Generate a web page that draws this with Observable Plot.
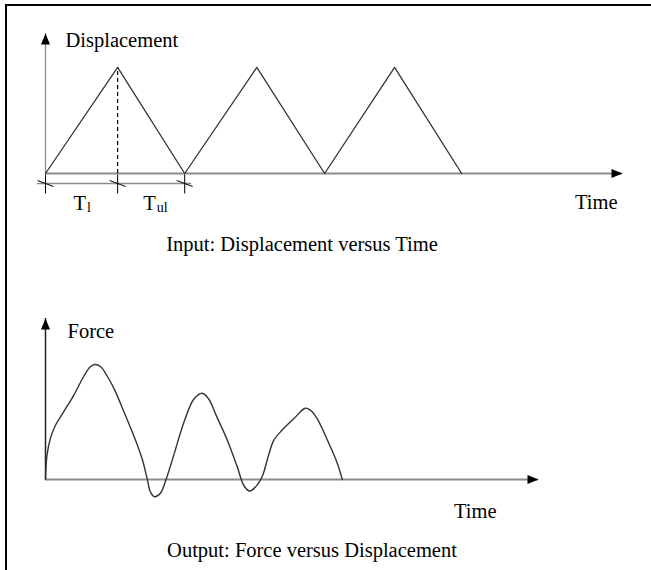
<!DOCTYPE html>
<html>
<head>
<meta charset="utf-8">
<script src="https://cdn.jsdelivr.net/npm/d3@7"></script>
<script src="https://cdn.jsdelivr.net/npm/@observablehq/plot@0.6"></script>
<style>
  html, body { margin: 0; padding: 0; background: #fff; overflow: hidden; }
  #wrap { position: relative; width: 651px; height: 570px; overflow: hidden; background: #fff; }
  #wrap svg { display: block; }
  #gap { height: 30px; }
  #frame { position: absolute; left: 5px; top: 4px; width: 700px; height: 700px;
           border-left: 2px solid #000; border-top: 2px solid #000; pointer-events: none; z-index: 2; }
</style>
</head>
<body>
<div id="wrap"><div id="frame"></div></div>
<script>
// ---------- data ----------
// Input: displacement versus time (triangular loading / unloading cycles)
const inputTime = [0, 1, 1.93, 2.93, 3.87, 4.84, 5.77];
const inputDisp = [0, 1, 0, 1, 0, 1, 0];
// dimension marks: loading time T_l and unloading time T_ul
const dimTicks = [0, 1, 1.93];
const dimMain = ["T", "T"];
const dimSub = ["l", "ul"];

// Output: force versus displacement
const outDisp = [0, 0.03, 0.10, 0.20, 0.37, 0.57, 0.78, 0.91, 1.00, 1.12, 1.25, 1.39, 1.59, 1.79, 1.96, 2.06, 2.13, 2.21,
                 2.33, 2.43, 2.60, 2.81, 3.01, 3.18, 3.31, 3.48, 3.69, 3.89, 4.02, 4.14, 4.29, 4.40, 4.53, 4.63, 4.80, 5.04,
                 5.27, 5.38, 5.51, 5.71, 5.92, 6.02];
const outForce = [0, 0.21, 0.36, 0.47, 0.59, 0.73, 0.90, 0.98, 1.00, 0.98, 0.90, 0.79, 0.59, 0.38, 0.18, 0.01, -0.11, -0.15,
                  -0.12, -0.02, 0.21, 0.50, 0.70, 0.75, 0.70, 0.54, 0.34, 0.11, -0.05, -0.10, -0.05, 0.03, 0.22, 0.34, 0.43, 0.53,
                  0.62, 0.60, 0.53, 0.35, 0.14, 0];

const topLabels = {y: "Displacement", x: "Time", caption: "Input: Displacement versus Time"};
const bottomLabels = {y: "Force", x: "Time", caption: "Output: Force versus Displacement"};

// ---------- helpers ----------
const FONT = "'Liberation Serif', 'Times New Roman', serif";
const FS = 20.5;
const headUp = {draw(ctx) { ctx.moveTo(0, 0); ctx.lineTo(4.5, 11); ctx.lineTo(-4.5, 11); ctx.closePath(); }};
const headRight = {draw(ctx) { ctx.moveTo(0, 0); ctx.lineTo(-11, 4.5); ctx.lineTo(-11, -4.5); ctx.closePath(); }};
const dimMark = {draw(ctx) { ctx.moveTo(0, -9); ctx.lineTo(0, 10); ctx.moveTo(-8, -3); ctx.lineTo(8, 3); }};
const style = {background: "transparent", fontFamily: FONT, fontSize: FS + "px", color: "#000", overflow: "visible"};

const inputData = inputTime.map((t, i) => ({t, d: inputDisp[i]}));
const peak = inputData[1];
const dimSpans = dimMain.map((m, i) => ({mid: (dimTicks[i] + dimTicks[i + 1]) / 2, main: m, sub: dimSub[i]}));
const outData = outDisp.map((x, i) => ({x, f: outForce[i]}));

const topChart = Plot.plot({
  width: 651, height: 260,
  marginLeft: 45, marginRight: 29, marginTop: 33, marginBottom: 87,
  x: {domain: [0, 8], axis: null},
  y: {domain: [0, 1.32], axis: null},
  style,
  marks: [
    Plot.ruleY([0], {stroke: "#8c8c8c", strokeWidth: 2}),
    Plot.ruleX([0], {stroke: "#8c8c8c", strokeWidth: 1.3}),
    Plot.dot([0], {frameAnchor: "top-left", symbol: headUp, fill: "#000", stroke: "none"}),
    Plot.dot([0], {frameAnchor: "bottom-right", symbol: headRight, fill: "#000", stroke: "none"}),
    Plot.line(inputData, {x: "t", y: "d", stroke: "#333", strokeWidth: 1.3}),
    Plot.ruleX([peak], {x: "t", y1: 0, y2: "d", stroke: "#000", strokeWidth: 1.2, strokeDasharray: "4,3"}),
    Plot.ruleY([0], {x1: dimTicks[0], x2: dimTicks[dimTicks.length - 1], dy: 10, insetLeft: -8, insetRight: -7,
                     stroke: "#8c8c8c", strokeWidth: 1.5}),
    Plot.dot(dimTicks, {x: d => d, y: 0, dy: 10, symbol: dimMark, fill: "none", stroke: "#000", strokeWidth: 1}),
    Plot.text(dimSpans, {x: "mid", y: 0, text: "main", dx: -8, dy: 36, textAnchor: "start", lineAnchor: "bottom", fontSize: FS}),
    Plot.text(dimSpans, {x: "mid", y: 0, text: "sub", dx: 5.5, dy: 38.5, textAnchor: "start", lineAnchor: "bottom", fontSize: 14}),
    Plot.text([topLabels.y], {frameAnchor: "top-left", text: d => d, dx: 20, dy: 13, textAnchor: "start", lineAnchor: "bottom", fontSize: FS}),
    Plot.text([topLabels.x], {frameAnchor: "bottom-right", text: d => d, dx: -5, dy: 35, textAnchor: "end", lineAnchor: "bottom", fontSize: FS}),
    Plot.text([topLabels.caption], {frameAnchor: "bottom", text: d => d, dx: -32, dy: 77, textAnchor: "middle", lineAnchor: "bottom", fontSize: FS})
  ]
});

const bottomChart = Plot.plot({
  width: 651, height: 280,
  marginLeft: 45, marginRight: 113, marginTop: 28, marginBottom: 91,
  x: {domain: [0, 10], axis: null},
  y: {domain: [0, 1.4], axis: null},
  style,
  marks: [
    Plot.ruleY([0], {stroke: "#8c8c8c", strokeWidth: 2}),
    Plot.ruleX([0], {stroke: "#222", strokeWidth: 1.5}),
    Plot.dot([0], {frameAnchor: "top-left", symbol: headUp, fill: "#000", stroke: "none"}),
    Plot.dot([0], {frameAnchor: "bottom-right", symbol: headRight, fill: "#000", stroke: "none"}),
    Plot.line(outData, {x: "x", y: "f", curve: "catmull-rom", stroke: "#333", strokeWidth: 1.4}),
    Plot.text([bottomLabels.y], {frameAnchor: "top-left", text: d => d, dx: 22, dy: 19, textAnchor: "start", lineAnchor: "bottom", fontSize: FS}),
    Plot.text([bottomLabels.x], {frameAnchor: "bottom-right", text: d => d, dx: -42, dy: 38, textAnchor: "end", lineAnchor: "bottom", fontSize: FS}),
    Plot.text([bottomLabels.caption], {frameAnchor: "bottom", text: d => d, dx: 20, dy: 77, textAnchor: "middle", lineAnchor: "bottom", fontSize: FS})
  ]
});

const wrap = document.getElementById("wrap");
const gap = document.createElement("div");
gap.id = "gap";
wrap.insertBefore(topChart, wrap.firstChild);
wrap.insertBefore(gap, topChart.nextSibling);
wrap.insertBefore(bottomChart, gap.nextSibling);
</script>
</body>
</html>
